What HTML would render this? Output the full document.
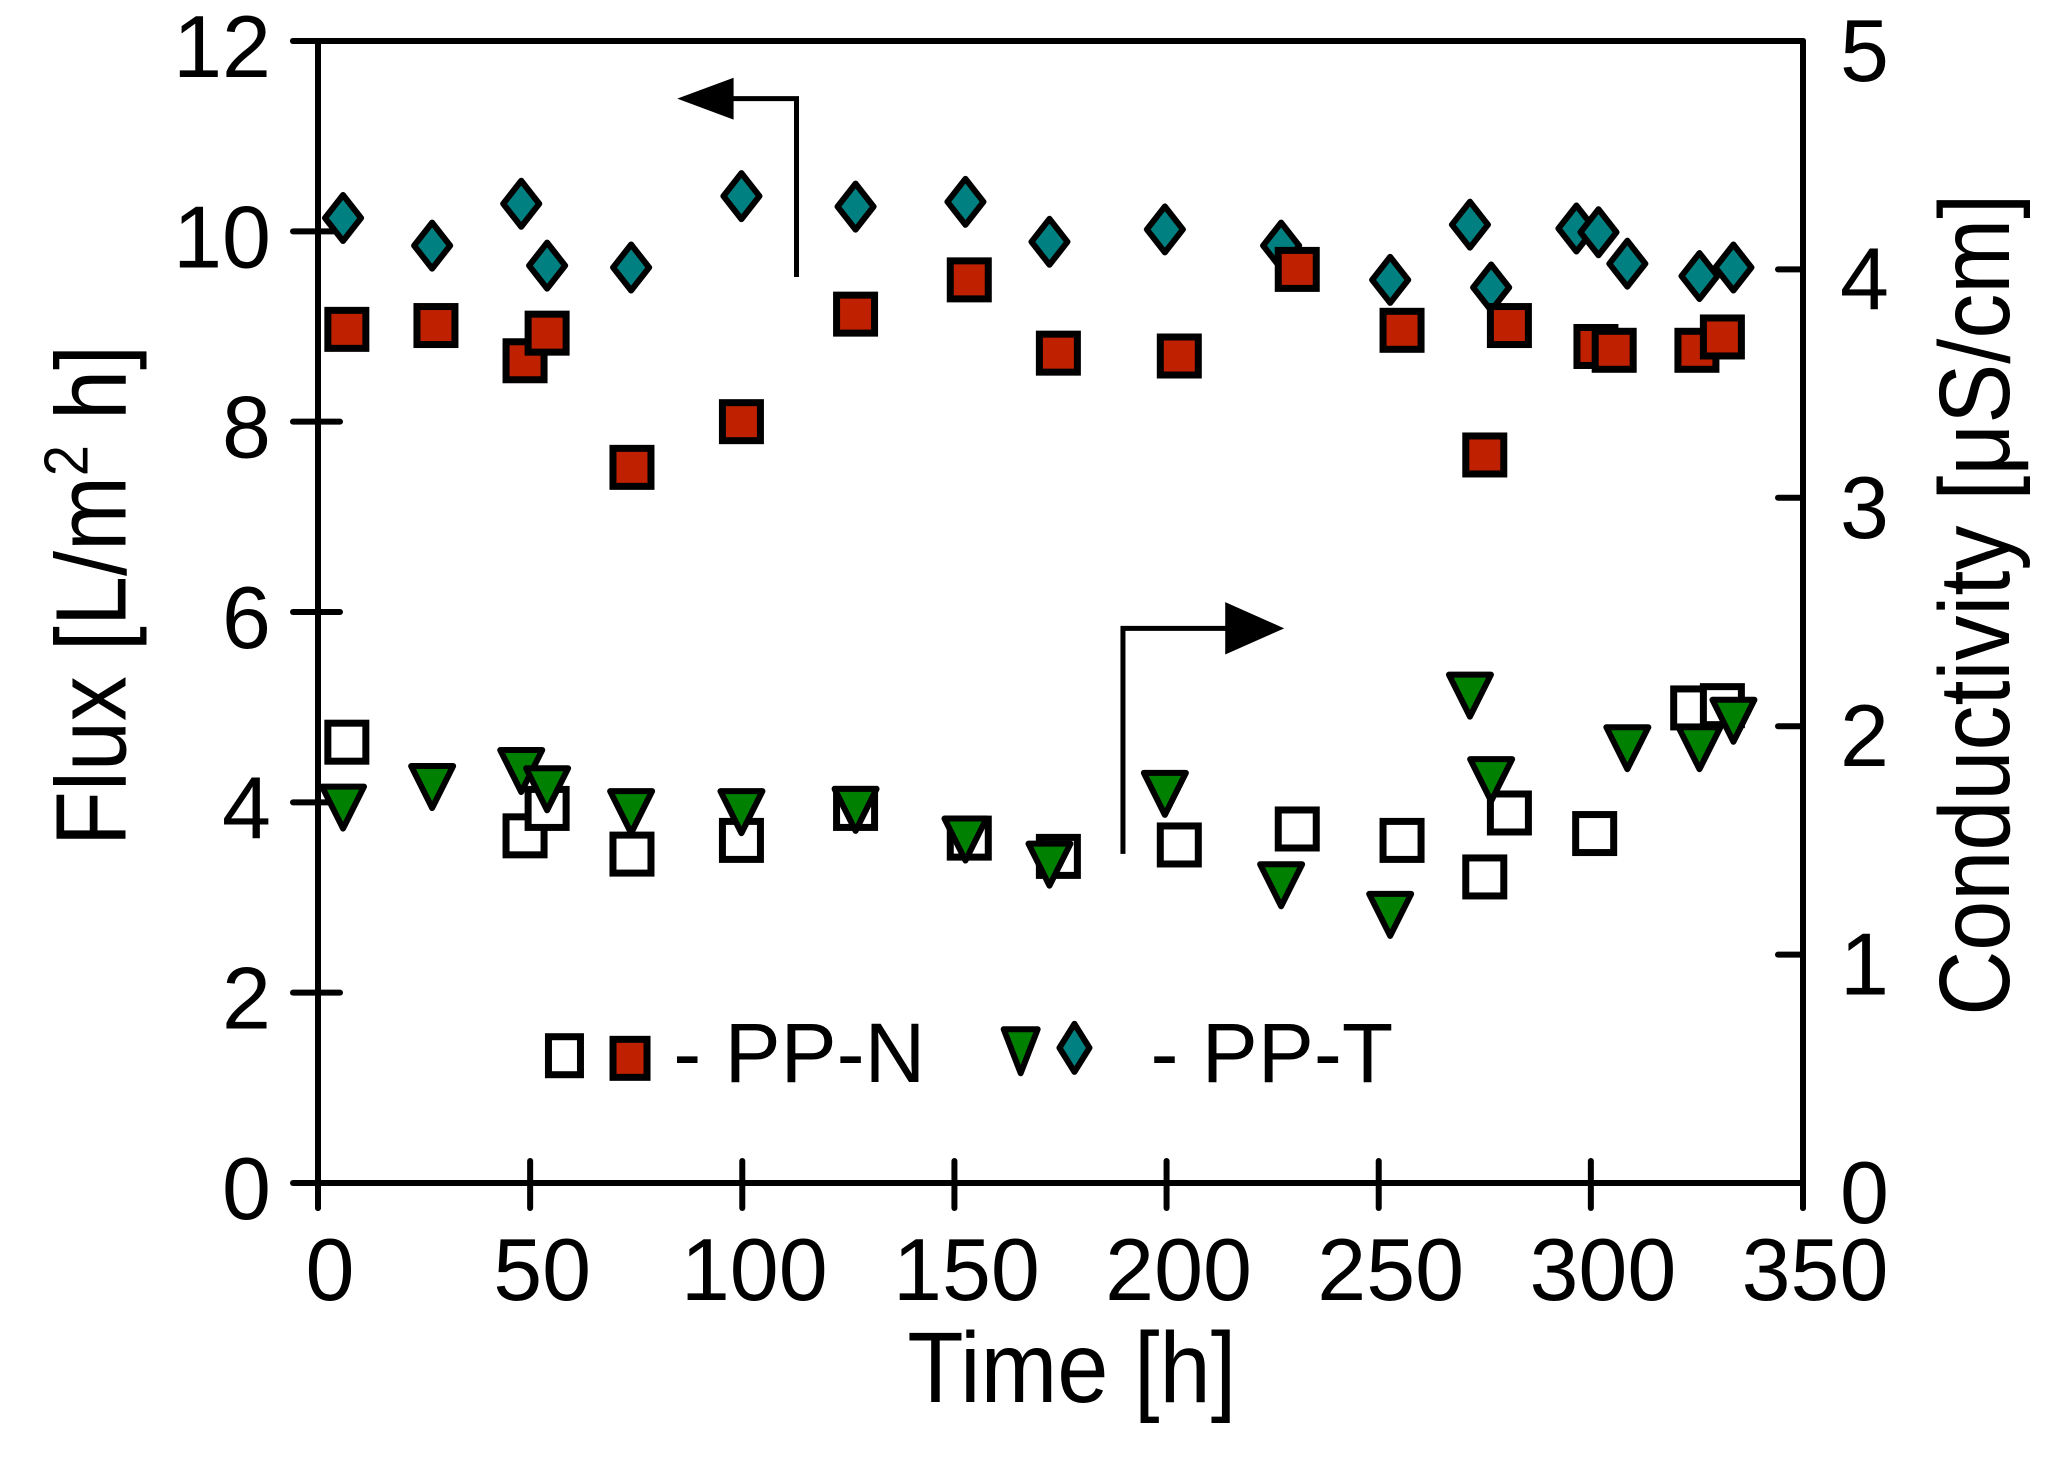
<!DOCTYPE html>
<html><head><meta charset="utf-8"><style>
html,body{margin:0;padding:0;background:#fff;}
svg{display:block;}
text{font-family:"Liberation Sans",Arial,sans-serif;fill:#000;}
</style></head><body>
<svg id="chart" width="2057" height="1479" viewBox="0 0 2057 1479" xmlns="http://www.w3.org/2000/svg">
<g id="axes"></g>
<g id="marks"></g>
<g id="legend"></g>
</svg>
<script>
const xTicks=[0,50,100,150,200,250,300,350];
const yLeftTicks=[0,2,4,6,8,10,12];
const yRightTicks=[0,1,2,3,4,5];
const fluxNTime=[6.8,27.8,48.8,54,74,99.8,126.7,153.5,174.5,203,230.8,255.5,275,280.8,301.2,305.5,325,331];
const fluxNVal=[8.97,9.01,8.64,8.93,7.52,8.00,9.13,9.49,8.72,8.69,9.60,8.96,7.65,9.01,8.79,8.75,8.75,8.89];
const fluxTTime=[5.9,26.9,47.9,54,73.8,99.8,126.7,152.6,172.4,199.6,227,252.7,271.5,276.5,296.6,301.8,308.6,325.6,333.6];
const fluxTVal=[10.14,9.85,10.29,9.64,9.62,10.37,10.26,10.31,9.89,10.02,9.85,9.49,10.07,9.41,10.03,9.99,9.66,9.53,9.62];
const condNTime=[6.8,48.8,54,74,99.8,126.7,153.5,174.5,203,230.8,255.5,275,280.8,300.9,324,331];
const condNVal=[1.93,1.52,1.64,1.44,1.50,1.64,1.51,1.43,1.48,1.55,1.50,1.34,1.62,1.53,2.08,2.09];
const condTTime=[5.9,26.9,47.9,54,73.8,99.8,126.7,152.6,172.4,199.6,227,252.7,271.5,276.5,308.6,325.6,333.6];
const condTVal=[1.67,1.76,1.83,1.75,1.65,1.65,1.66,1.53,1.42,1.73,1.33,1.20,2.16,1.79,1.93,1.93,2.05];

const X0=318,X1=1803,Y0=1183,Y1=41;
const xs=t=>X0+(X1-X0)*t/350;
const yl=v=>Y0-(Y0-Y1)*v/12;
const yr=v=>Y0-(Y0-Y1)*v/5;
const D=(x,y)=>[318+(x-243)*1.311,41+(y-32)*1.311];
const NS='http://www.w3.org/2000/svg';
function mk(tag,attrs,parent){const e=document.createElementNS(NS,tag);for(const k in attrs)e.setAttribute(k,attrs[k]);parent.appendChild(e);return e;}
const axes=document.getElementById('axes'),marks=document.getElementById('marks'),legend=document.getElementById('legend');
const LS={stroke:'#000','stroke-width':6,'stroke-linecap':'round'};

let e;
e=mk('line',Object.assign({x1:X0,y1:Y0,x2:X1,y2:Y0},LS),axes);


e=mk('line',Object.assign({x1:X0-25,y1:Y1,x2:X1,y2:Y1},LS),axes);


e=mk('line',Object.assign({x1:X0,y1:Y0+25,x2:X0,y2:Y1},LS),axes);


e=mk('line',Object.assign({x1:X1,y1:Y0+25,x2:X1,y2:Y1},LS),axes);



xTicks.forEach(t=>{
  const l=mk('line',Object.assign({x1:xs(t),y1:Y0-22,x2:xs(t),y2:Y0+25},LS),axes);
  
  
  const tx=mk('text',{x:xs(t)+12,y:1300,'font-size':88,'text-anchor':'middle'},axes);
  tx.textContent=t;
  
  
});
yLeftTicks.forEach(v=>{
  const l=mk('line',Object.assign({x1:X0-25,y1:yl(v),x2:X0+22,y2:yl(v)},LS),axes);
  
  
  const tx=mk('text',{x:271,y:yl(v)+36,'font-size':88,'text-anchor':'end'},axes);
  tx.textContent=v;
  
  
});
yRightTicks.forEach(v=>{
  const l=mk('line',Object.assign({x1:X1-25,y1:yr(v),x2:X1,y2:yr(v)},LS),axes);
  
  
  const tx=mk('text',{x:1840,y:yr(v)+40,'font-size':88,'text-anchor':'start'},axes);
  tx.textContent=v;
  
  
});

let p=D(818,1070);
e=mk('text',{x:0,y:0,'font-size':100,'text-anchor':'middle',transform:`translate(${p[0]},${p[1]}) scale(0.92,1)`},axes);
e.textContent='Time [h]';


p=D(96,455);
e=mk('text',{x:0,y:0,'font-size':100,'text-anchor':'middle',transform:`translate(${p[0]},${p[1]}) rotate(-90) scale(0.9,1)`},axes);
e.innerHTML='Flux [L/m<tspan dy="-38" font-size="62">2</tspan><tspan dy="38"> h]</tspan>';


p=D(1533,462);
e=mk('text',{x:0,y:0,'font-size':100,'text-anchor':'middle',transform:`translate(${p[0]},${p[1]}) rotate(-90) scale(0.9,1)`},axes);
e.textContent='Conductivity [\u03bcS/cm]';



function arrow(pts,tip,base,hh,name){
  const d=pts.map((q,i)=>{const r=D(q[0],q[1]);return (i?'L':'M')+r[0]+' '+r[1];}).join(' ');
  const g=mk('g',{},axes);
  
  
  mk('path',{d:d,fill:'none',stroke:'#000','stroke-width':5},g);
  const a=D(tip[0],tip[1]),b1=D(base[0],base[1]-hh),b2=D(base[0],base[1]+hh);
  mk('polygon',{points:`${a[0]},${a[1]} ${b1[0]},${b1[1]} ${b2[0]},${b2[1]}`,fill:'#000'},g);
}
arrow([[608,212],[608,76],[555,76]],[517,76],[560,76],16,'left-axis-arrow');
arrow([[857,652],[857,480],[940,480]],[980,480],[935,480],20,'right-axis-arrow');

function square(cx,cy,fill,name){
  const s=mk('rect',{x:cx-19,y:cy-19,width:38,height:38,fill:fill,stroke:'#000','stroke-width':7},marks);
  
  
  return s;
}
function diamond(cx,cy,name){
  const s=mk('polygon',{points:`${cx},${cy-23} ${cx+18},${cy} ${cx},${cy+23} ${cx-18},${cy}`,fill:'#008080',stroke:'#000','stroke-width':6,'stroke-linejoin':'round'},marks);
  
  
  return s;
}
function tri(cx,cy,name){
  const s=mk('polygon',{points:`${cx-21},${cy-15} ${cx+21},${cy-15} ${cx},${cy+27}`,fill:'#008000',stroke:'#000','stroke-width':6,'stroke-linejoin':'round'},marks);
  
  
  return s;
}
condNTime.forEach((t,i)=>square(xs(t),yr(condNVal[i]),'#fff','cond-pp-n-point'));
condTTime.forEach((t,i)=>tri(xs(t),yr(condTVal[i]),'cond-pp-t-point'));
fluxTTime.forEach((t,i)=>diamond(xs(t),yl(fluxTVal[i]),'flux-pp-t-point'));
fluxNTime.forEach((t,i)=>square(xs(t),yl(fluxNVal[i]),'#be2000','flux-pp-n-point'));

p=D(431,806);
e=mk('rect',{x:p[0]-16,y:p[1]-19,width:32,height:38,fill:'#fff',stroke:'#000','stroke-width':7},legend);


p=D(481,808);
e=mk('rect',{x:p[0]-17,y:p[1]-19,width:34,height:38,fill:'#be2000',stroke:'#000','stroke-width':7},legend);


p=D(514,826);
e=mk('text',{x:p[0],y:p[1],'font-size':84},legend);
e.textContent='- PP-N';


p=D(779,798);
e=mk('polygon',{points:`${p[0]-17},${p[1]-16} ${p[0]+17},${p[1]-16} ${p[0]},${p[1]+28}`,fill:'#008000',stroke:'#000','stroke-width':6,'stroke-linejoin':'round'},legend);


p=D(820,800);
e=mk('polygon',{points:`${p[0]},${p[1]-24} ${p[0]+15},${p[1]} ${p[0]},${p[1]+24} ${p[0]-15},${p[1]}`,fill:'#008080',stroke:'#000','stroke-width':6,'stroke-linejoin':'round'},legend);


p=D(878,826);
e=mk('text',{x:p[0],y:p[1],'font-size':84},legend);
e.textContent='- PP-T';


</script>
</body></html>
